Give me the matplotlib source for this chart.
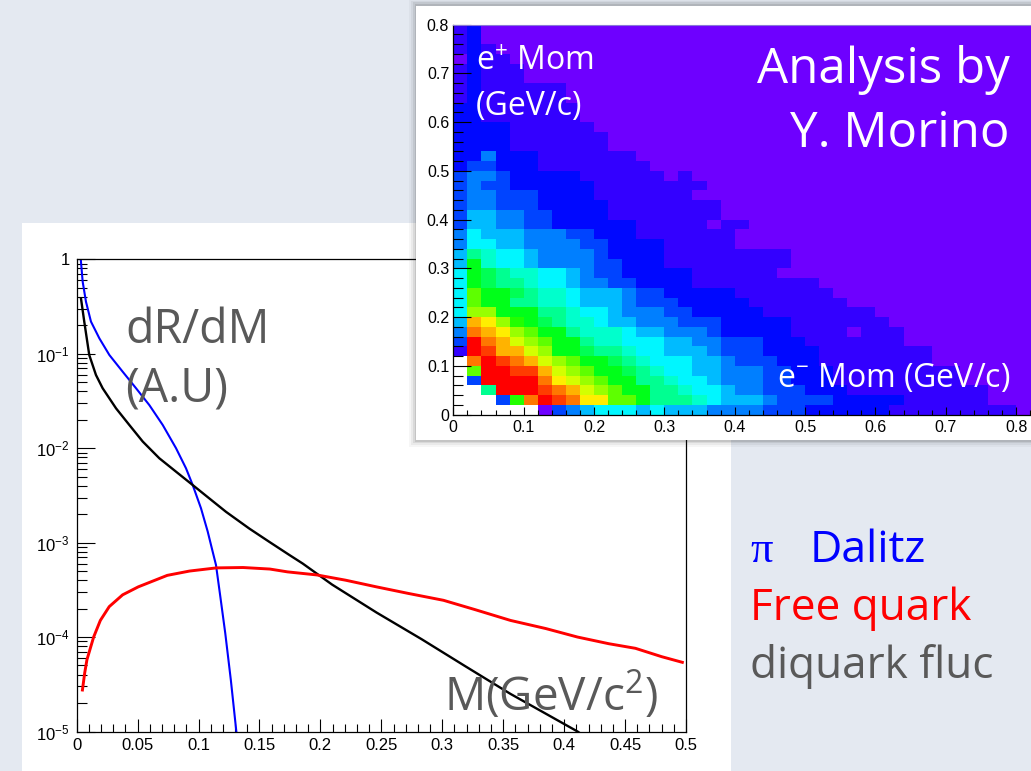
import colorsys
import numpy as np
import matplotlib
matplotlib.use("Agg")
import matplotlib.pyplot as plt
from matplotlib.colors import ListedColormap
from matplotlib.patches import Rectangle
from matplotlib.ticker import FixedLocator, FixedFormatter, LogLocator, NullFormatter

plt.rcParams['font.family'] = ['Liberation Sans', 'DejaVu Sans']
plt.rcParams['mathtext.fontset'] = 'custom'
plt.rcParams['mathtext.rm'] = 'Open Sans'
plt.rcParams['mathtext.it'] = 'Open Sans'
plt.rcParams['mathtext.sf'] = 'Liberation Sans'

# ---------------- dielectron mass spectra ----------------
dalitz_m = [0.0030, 0.0035, 0.0049, 0.0076, 0.0117, 0.0186, 0.0268, 0.0377,
            0.0487, 0.0596, 0.0706, 0.0815, 0.0897, 0.0952, 0.1020, 0.1075,
            0.1116, 0.1143, 0.1180, 0.1219, 0.1265, 0.1310, 0.1335]
dalitz_rate = [1.15, 0.944, 0.579, 0.356, 0.219, 0.1455, 0.0970, 0.0646,
               0.0431, 0.0286, 0.0176, 0.0100, 0.00612, 0.00407, 0.00231, 0.00131,
               8.0e-4, 5.8e-4, 2.6e-4, 1.1e-4, 3.5e-5, 1.0e-5, 5.0e-6]

diquark_m = [0.0035, 0.0062, 0.0103, 0.0158, 0.0213, 0.0323, 0.0432, 0.0542,
             0.0678, 0.0815, 0.0952, 0.1088, 0.1225, 0.1416, 0.1580, 0.1745,
             0.1855, 0.2095, 0.2460, 0.2830, 0.3190, 0.3560, 0.4110, 0.4200]
diquark_rate = [0.386, 0.219, 0.0970, 0.0596, 0.0431, 0.0264, 0.0176, 0.01175,
                0.00782, 0.00564, 0.00407, 0.00294, 0.00212, 0.00141, 0.00102, 7.4e-4,
                6.0e-4, 3.6e-4, 1.82e-4, 9.5e-5, 4.9e-5, 2.5e-5, 1.0e-5, 8.3e-6]

quark_m = [0.0047, 0.0066, 0.0084, 0.0139, 0.0194, 0.0267, 0.0377, 0.0505,
           0.0743, 0.0926, 0.1146, 0.1365, 0.1585, 0.1730, 0.1970, 0.2207,
           0.2460, 0.2720, 0.3010, 0.3270, 0.3560, 0.3850, 0.4110, 0.4367,
           0.4585, 0.4800, 0.4970]
quark_rate = [2.75e-5, 4.2e-5, 5.75e-5, 1.0e-4, 1.5e-4, 2.1e-4, 2.8e-4, 3.4e-4,
              4.5e-4, 5.0e-4, 5.4e-4, 5.45e-4, 5.25e-4, 4.9e-4, 4.55e-4, 4.0e-4,
              3.4e-4, 2.9e-4, 2.45e-4, 1.95e-4, 1.5e-4, 1.23e-4, 1.0e-4, 8.5e-5,
              7.6e-5, 6.2e-5, 5.4e-5]

mass_ticks = [0, 0.05, 0.1, 0.15, 0.2, 0.25, 0.3, 0.35, 0.4, 0.45, 0.5]
mass_tick_labels = ['0', '0.05', '0.1', '0.15', '0.2', '0.25', '0.3', '0.35',
                    '0.4', '0.45', '0.5']
rate_ticks = [1e-5, 1e-4, 1e-3, 1e-2, 1e-1, 1]
rate_tick_labels = [r'$\mathsf{10^{-5}}$', r'$\mathsf{10^{-4}}$', r'$\mathsf{10^{-3}}$',
                    r'$\mathsf{10^{-2}}$', r'$\mathsf{10^{-1}}$', '1']

# ---------------- e+ / e- momentum map (palette level per 0.02 bin) ----------------
# one string per e+ momentum row (bottom row first), one character per e- bin;
# '.' = empty bin, 0..9 a..j = palette level 0..19
mom_map_rows = [
    "......0345 6665655544 4433322222 2111111111 00",
    "...3bhjihf fcca888765 5543333222 2211111100 00",
    "..8jjjihge dcaa887665 4433322211 1111111100 00",
    ".3jjjjhfed caa8876654 4433222111 1111110000 00",
    ".cjjiigedc aa98766554 4433222111 1111110000 00",
    ".hjihgedca a987666554 3332221111 1111000000 00",
    "1jiggedaa9 8876655543 3322221111 1111000000 00",
    "3jhgedcaa8 7766655443 3322211111 1100000000 00",
    "4hgfdcaa87 7765544432 2222111101 1100000000 00",
    "5gfdba9877 6554443332 2222111111 1000000000 00",
    "6ddaaa8876 6544433222 2211111111 0000000000 00",
    "6caa887765 5543332222 2111111100",
    "6caa987765 5543322222 1111111000",
    "6a98876654 4332222111 1111110000",
    "6a98776654 3322222111 1110000000",
    "5a76654444 3322211111 1111000000",
    "5876654444 3222211111 1111000000",
    "4665544443 3222211111",
    "4655544433 2221111111",
    "3554433222 2221111101 1",
    "3554433222 2111111110",
    "3443332222 2111111110",
    "3443332222 1111111000",
    "3433222222 1111111100",
    "3443222221 1111101000",
    "2332221111 1111000000",
    "2242221111 1110000000",
    "2222111111 1000000000",
    "2222111111 1000000000",
    "2222111111",
    "2211111110",
    "2211111110",
    "1211111100",
    "1211111100",
    "1211100000",
    "1211100000",
    "0211000000",
    "1210000000",
    "1200000000",
    "1200000000",
]
mom_bin_width = 0.02
mom_ticks = [0, 0.1, 0.2, 0.3, 0.4, 0.5, 0.6, 0.7, 0.8]
mom_tick_labels = ['0', '0.1', '0.2', '0.3', '0.4', '0.5', '0.6', '0.7', '0.8']

# ---------------- figure ----------------
W, H = 1031, 771
fig = plt.figure(figsize=(W / 100, H / 100), dpi=100)
fig.patch.set_facecolor('#E4E9F1')


def fig_rect(x0, y0, x1, y1):
    """pixel box (top-left origin) -> figure fraction [l, b, w, h]"""
    return [x0 / W, 1 - y1 / H, (x1 - x0) / W, (y1 - y0) / H]


def add_box(x0, y0, x1, y1, z, **kw):
    l, b, w, h = fig_rect(x0, y0, x1, y1)
    fig.add_artist(Rectangle((l, b), w, h, transform=fig.transFigure, zorder=z, **kw))


def slide_text(px, py, s, **kw):
    kw.setdefault('family', ['Open Sans', 'DejaVu Sans'])
    kw.setdefault('va', 'baseline')
    kw.setdefault('zorder', 10)
    fig.text(px / W, 1 - py / H, s, **kw)


# white pad behind the mass spectrum
add_box(22, 223, 731, 790, -5, facecolor='white', edgecolor='none')

ax = fig.add_axes(fig_rect(76.7, 259.3, 686, 731.5))
ax.set_zorder(0)
ax.set_facecolor('white')
ax.plot(dalitz_m, dalitz_rate, color='#0000FF', lw=1.5, solid_joinstyle='round')
ax.plot(diquark_m, diquark_rate, color='black', lw=1.7, solid_joinstyle='round')
ax.plot(quark_m, quark_rate, color='#FF0000', lw=2.1, solid_joinstyle='round')
ax.set_yscale('log')
ax.set_xlim(0, 0.5)
ax.set_ylim(1e-5, 1)
ax.xaxis.set_major_locator(FixedLocator(mass_ticks))
ax.xaxis.set_major_formatter(FixedFormatter(mass_tick_labels))
ax.xaxis.set_minor_locator(FixedLocator(np.arange(0, 0.5001, 0.01)))
ax.yaxis.set_major_locator(FixedLocator(rate_ticks))
ax.yaxis.set_major_formatter(FixedFormatter(rate_tick_labels))
ax.yaxis.set_minor_locator(LogLocator(base=10, subs=np.arange(2, 10), numticks=20))
ax.yaxis.set_minor_formatter(NullFormatter())
ax.tick_params(axis='x', which='major', direction='in', length=9.5, width=0.8, pad=5,
               labelsize=12, top=False)
ax.tick_params(axis='x', which='minor', direction='in', length=5.5, width=0.8, top=False)
ax.tick_params(axis='y', which='major', direction='in', length=13, width=0.8, pad=5,
               labelsize=12, right=False)
ax.tick_params(axis='y', which='minor', direction='in', length=7, width=0.8, right=False)
for sp in ax.spines.values():
    sp.set_linewidth(0.9)

# soft shadow and white card behind the momentum map
for d, a in [(7, 0.04), (5, 0.06), (3, 0.09), (1.5, 0.12)]:
    add_box(416 - d, 5.5 - d, 1040, 440 + d, 1, facecolor='#303030', edgecolor='none', alpha=a)
add_box(416, 5.5, 1040, 440, 2, facecolor='white', edgecolor='none')

levels = '0123456789abcdefghij'
n_cols = 42


def decode(row):
    row = row.replace(' ', '').ljust(n_cols, '0')
    return [np.nan if ch == '.' else float(levels.index(ch)) for ch in row]


Z = np.array([decode(r) for r in mom_map_rows])
xe = np.arange(Z.shape[1] + 1) * mom_bin_width
ye = np.arange(Z.shape[0] + 1) * mom_bin_width

palette = [colorsys.hls_to_rgb(((266 - 14 * k) % 360) / 360.0, 0.5, 1.0) for k in range(20)]
cmap = ListedColormap(palette)
cmap.set_bad('white')

ax2 = fig.add_axes(fig_rect(453.3, 24.6, 453.3 + 0.84 * 703.5, 414.6))
ax2.set_zorder(3)
ax2.set_facecolor('white')
ax2.pcolormesh(xe, ye, np.ma.masked_invalid(Z), cmap=cmap, vmin=-0.5, vmax=19.5,
               shading='flat', antialiased=False, edgecolors='none', linewidth=0)
ax2.set_xlim(0, 0.84)
ax2.set_ylim(0, 0.8)
ax2.xaxis.set_major_locator(FixedLocator(mom_ticks))
ax2.xaxis.set_major_formatter(FixedFormatter(mom_tick_labels))
ax2.yaxis.set_major_locator(FixedLocator(mom_ticks))
ax2.yaxis.set_major_formatter(FixedFormatter(mom_tick_labels))
ax2.xaxis.set_minor_locator(FixedLocator(np.arange(0, 0.8401, 0.02)))
ax2.yaxis.set_minor_locator(FixedLocator(np.arange(0, 0.8001, 0.02)))
ax2.tick_params(axis='x', which='major', direction='in', length=6, width=0.8, pad=4,
                labelsize=11.5, top=False)
ax2.tick_params(axis='x', which='minor', direction='in', length=3.8, width=0.8, top=False)
ax2.tick_params(axis='y', which='major', direction='in', length=13, width=0.8, pad=3,
                labelsize=11.5, right=False)
ax2.tick_params(axis='y', which='minor', direction='in', length=7, width=0.8, right=False)
ax2.spines['top'].set_color('#8878d8')
ax2.spines['top'].set_linewidth(0.8)
ax2.spines['right'].set_visible(False)
for s in ('left', 'bottom'):
    ax2.spines[s].set_linewidth(0.9)

# ---------------- slide annotations ----------------
grey = '#595959'
slide_text(125, 343, 'dR/dM', size=33.5, color=grey)
slide_text(125, 401, '(A.U)', size=33.5, color=grey)
slide_text(444, 711, r'M(GeV/c$^{2}$)', size=33, color=grey)

slide_text(750, 562, '\u03c0', size=32, color='#0000FF', family=['Liberation Serif'])
slide_text(810, 562, 'Dalitz', size=32, color='#0000FF')
slide_text(750, 620, 'Free quark', size=31.8, color='#FF0000')
slide_text(750, 678, 'diquark fluc', size=31.8, color=grey)

slide_text(476, 70, r'e$^{+}$ Mom', size=23, color='white')
slide_text(476, 115, '(GeV/c)', size=23, color='white')
slide_text(1010, 83, 'Analysis by', size=35.5, color='white', ha='right')
slide_text(1010, 147, 'Y. Morino', size=35.5, color='white', ha='right')
slide_text(1010, 387, r'e$^{-}$ Mom (GeV/c)', size=23, color='white', ha='right')

fig.savefig('out.png', dpi=100)
